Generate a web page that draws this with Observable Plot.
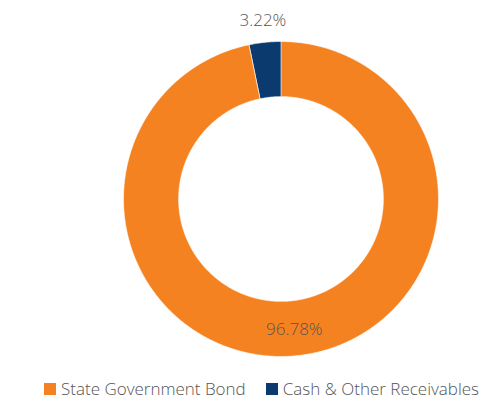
<!DOCTYPE html>
<html>
<head>
<meta charset="utf-8">
<script src="https://cdn.jsdelivr.net/npm/d3@7"></script>
<script src="https://cdn.jsdelivr.net/npm/@observablehq/plot@0.6"></script>
<style>
  html, body { margin: 0; padding: 0; background: #fff; }
  #wrap { position: relative; width: 481px; height: 399px; font-family: "Open Sans", "Noto Sans", sans-serif; overflow: hidden; }
  #legend { position: absolute; left: 44px; top: 380px; display: flex; align-items: center; font-size: 17px; line-height: 18px; font-weight: 300; color: #555; white-space: nowrap; }
  .item { display: flex; align-items: center; margin-right: 20px; }
  .sw { width: 12px; height: 12px; margin-right: 5px; }
</style>
</head>
<body>
<div id="wrap"><div id="chart"></div><div id="legend"></div></div>
<script>
const categories = ["State Government Bond", "Cash & Other Receivables"];
const values = [96.78, 3.22];
const labels = ["96.78%", "3.22%"];
const colors = ["#F58220", "#0A3A6E"];

const inner = 0.65, outer = 1;
const total = d3.sum(values);
const polys = [];
const texts = [];
let start = 0;
categories.forEach((c, i) => {
  const a0 = start / total * 2 * Math.PI;
  const a1 = (start + values[i]) / total * 2 * Math.PI;
  const n = Math.max(4, Math.ceil((a1 - a0) / 0.01));
  const pts = [];
  for (let k = 0; k <= n; k++) { const a = a0 + (a1 - a0) * k / n; pts.push([outer * Math.sin(a), outer * Math.cos(a)]); }
  for (let k = n; k >= 0; k--) { const a = a0 + (a1 - a0) * k / n; pts.push([inner * Math.sin(a), inner * Math.cos(a)]); }
  pts.forEach(p => polys.push({cat: c, x: p[0], y: p[1]}));
  const mid = (a0 + a1) / 2;
  const r = values[i] / total < 0.1 ? 1.14 : 0.835;
  texts.push({label: labels[i], x: r * Math.sin(mid), y: r * Math.cos(mid)});
  start += values[i];
});

const plot = Plot.plot({
  width: 481,
  height: 370,
  marginLeft: 123,
  marginRight: 43,
  marginTop: 41,
  marginBottom: 14,
  x: {domain: [-1, 1], axis: null},
  y: {domain: [-1, 1], axis: null},
  color: {domain: categories, range: colors},
  style: {fontFamily: "'Open Sans', 'Noto Sans', sans-serif"},
  marks: [
    Plot.line(polys, {x: "x", y: "y", z: "cat", fill: "cat", stroke: "white", strokeWidth: 0.6, curve: "linear-closed"}),
    Plot.text(texts, {x: "x", y: "y", text: "label", fontSize: 17, fontWeight: 300, fill: "#555"})
  ]
});
document.getElementById("chart").appendChild(plot);

const lg = document.getElementById("legend");
categories.forEach((c, i) => {
  const it = document.createElement("div");
  it.className = "item";
  it.innerHTML = `<div class="sw" style="background:${colors[i]}"></div><span>${c}</span>`;
  lg.appendChild(it);
});
</script>
</body>
</html>
